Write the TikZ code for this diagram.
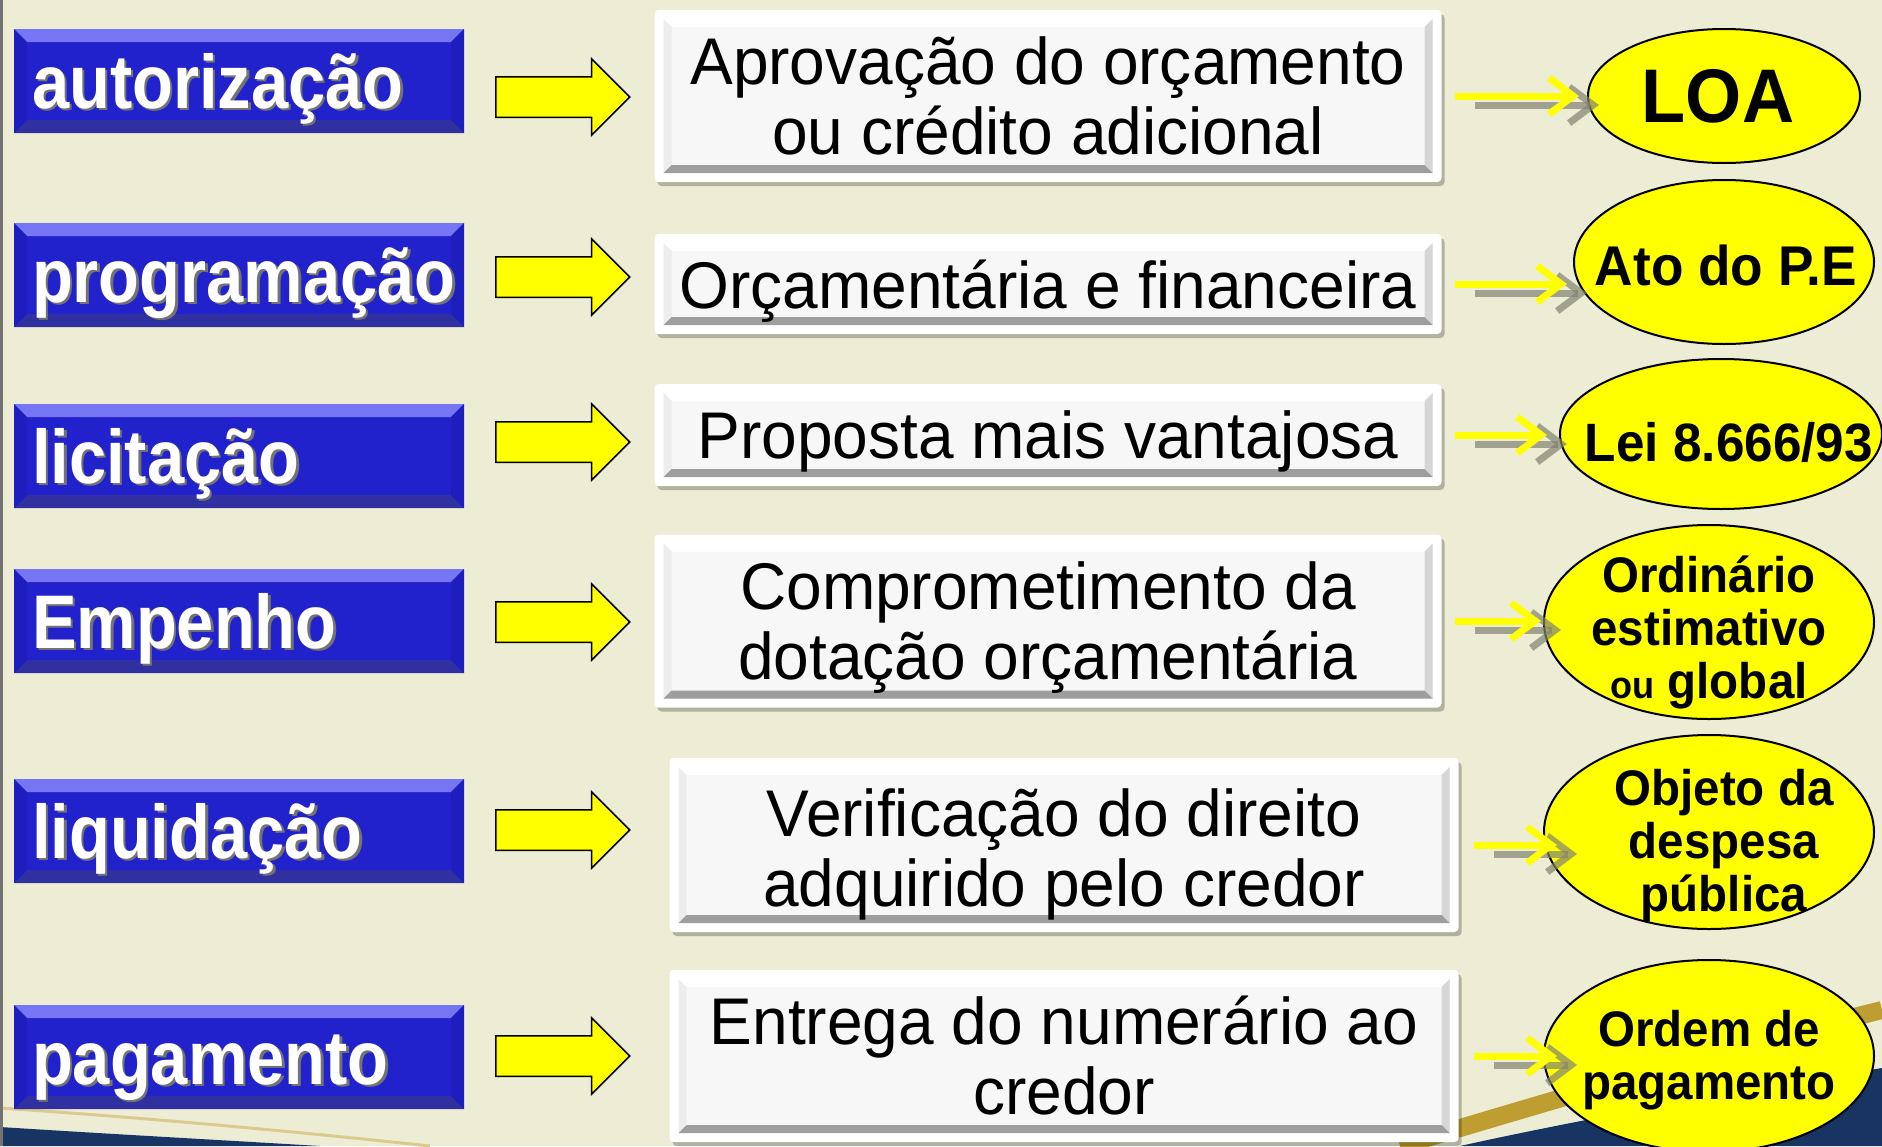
\documentclass[tikz,border=0pt]{standalone}
\usepackage{fontspec}
\setmainfont{Liberation Sans}
\newfontfamily\etapafont[FakeStretch=0.88]{Liberation Sans}
\newfontfamily\descfont[FakeStretch=0.97]{Liberation Sans}
\newfontfamily\basefont[FakeStretch=0.95]{Liberation Sans}
\usetikzlibrary{shapes.geometric,shapes.arrows,arrows.meta,shadows,positioning}

\definecolor{fundo}{RGB}{237,237,213}
\definecolor{azul}{RGB}{34,34,204}
\definecolor{azulclaro}{RGB}{118,118,244}
\definecolor{azulescuro}{RGB}{48,48,160}
\definecolor{azullado}{RGB}{30,30,190}
\definecolor{amarelo}{RGB}{255,255,0}
\definecolor{sombra}{RGB}{130,130,115}
\definecolor{ouro}{RGB}{190,158,48}
\definecolor{marinho}{RGB}{24,52,98}

\newcommand{\txtsombra}[1]{\leavevmode\rlap{\kern2.5pt\raisebox{-2.5pt}{\textcolor{black!55}{#1}}}#1}

\begin{document}
\begin{tikzpicture}[x=1pt,y=-1pt,
    etapa/.style={rectangle, fill=azul, minimum width=450pt, minimum height=104pt,
        inner xsep=18pt, inner ysep=0pt, text width=414pt, align=left,
        text height=58pt, text depth=4pt, text=white,
        font=\etapafont\bfseries\fontsize{76}{80}\selectfont,
        path picture={
            \coordinate (pnw) at (path picture bounding box.north west);
            \coordinate (pne) at (path picture bounding box.north east);
            \coordinate (pse) at (path picture bounding box.south east);
            \coordinate (psw) at (path picture bounding box.south west);
            \fill[azulclaro] (pnw) -- (pne) -- ([shift={(-13pt,-13pt)}]pne) -- ([shift={(13pt,-13pt)}]pnw) -- cycle;
            \fill[azulescuro] (psw) -- (pse) -- ([shift={(-13pt,13pt)}]pse) -- ([shift={(13pt,13pt)}]psw) -- cycle;
            \fill[azullado] (pnw) -- ([shift={(13pt,-13pt)}]pnw) -- ([shift={(13pt,13pt)}]psw) -- (psw) -- cycle;
            \fill[azullado] (pne) -- ([shift={(-13pt,-13pt)}]pne) -- ([shift={(-13pt,13pt)}]pse) -- (pse) -- cycle;
        }},
    caixa/.style={rectangle, rounded corners=4pt, fill=white, inner sep=0pt,
        drop shadow={shadow xshift=3pt, shadow yshift=-4pt, opacity=0.25, fill=black},
        path picture={
            \coordinate (pnw) at (path picture bounding box.north west);
            \coordinate (pne) at (path picture bounding box.north east);
            \coordinate (pse) at (path picture bounding box.south east);
            \coordinate (psw) at (path picture bounding box.south west);
            \fill[black!3, sharp corners] ([shift={(9pt,-9pt)}]pnw) rectangle ([shift={(-9pt,9pt)}]pse);
            \fill[white, sharp corners] ([shift={(9pt,-9pt)}]pnw) -- ([shift={(-9pt,-9pt)}]pne) -- ([shift={(-17pt,-17pt)}]pne) -- ([shift={(17pt,-17pt)}]pnw) -- cycle;
            \fill[black!7, sharp corners] ([shift={(9pt,-9pt)}]pnw) -- ([shift={(17pt,-17pt)}]pnw) -- ([shift={(17pt,17pt)}]psw) -- ([shift={(9pt,9pt)}]psw) -- cycle;
            \fill[black!16, sharp corners] ([shift={(-9pt,-9pt)}]pne) -- ([shift={(-17pt,-17pt)}]pne) -- ([shift={(-17pt,17pt)}]pse) -- ([shift={(-9pt,9pt)}]pse) -- cycle;
            \fill[black!38, sharp corners] ([shift={(9pt,9pt)}]psw) -- ([shift={(-9pt,9pt)}]pse) -- ([shift={(-17pt,17pt)}]pse) -- ([shift={(17pt,17pt)}]psw) -- cycle;
        }},
    texto/.style={align=center, inner sep=0pt, font=\descfont\fontsize{66}{70}\selectfont},
    seta/.style={single arrow, anchor=tail, fill=amarelo, draw=black, line width=1.5pt,
        minimum height=134pt, inner xsep=0pt, inner ysep=19.5pt, single arrow head extend=18pt},
    elipse/.style={ellipse, draw=black, line width=2pt, fill=amarelo, inner sep=0pt},
    base/.style={font=\basefont\bfseries, align=center, inner sep=0pt},
    setinha/.style={draw=amarelo, line width=7pt, -{Straight Barb[length=24pt,width=36pt]}},
    setinhasombra/.style={setinha, draw=sombra, opacity=0.7, transform canvas={shift={(20pt,-9pt)}}}]

\useasboundingbox (0,0) rectangle (1882,1146);
\fill[fundo] (0,0) rectangle (1882,1146);
\fill[marinho] (0,1127) .. controls (110,1134) and (220,1140) .. (320,1146) -- (0,1146) -- cycle;
\draw[ouro!55, line width=3pt] (0,1108) .. controls (150,1118) and (300,1132) .. (430,1146);
\fill[marinho] (1460,1146) .. controls (1600,1115) and (1750,1090) .. (1882,1068) -- (1882,1146) -- cycle;
\draw[ouro, line width=18pt] (1400,1146) .. controls (1570,1095) and (1740,1045) .. (1882,1010);
\draw[black!55, line width=3pt] (1.5,0) -- (1.5,1146);

\node[etapa] (aut) at (239,81) {\txtsombra{autorização}};
\node[etapa] (prog) at (239,275) {\txtsombra{programação}};
\node[etapa] (lic) at (239,456) {\txtsombra{licitação}};
\node[etapa] (emp) at (239,621) {\txtsombra{Empenho}};
\node[etapa] (liq) at (239,831) {\txtsombra{liquidação}};
\node[etapa] (pag) at (239,1057) {\txtsombra{pagamento}};

\node[seta] (s1) at (495,97) {};
\node[seta] (s2) at (495,277) {};
\node[seta] (s3) at (495,442) {};
\node[seta] (s4) at (495,622) {};
\node[seta] (s5) at (495,830) {};
\node[seta] (s6) at (495,1056) {};

\node[caixa, minimum width=787pt, minimum height=172pt] (w1) at (1048,96) {};
\node[caixa, minimum width=787pt, minimum height=100pt] (w2) at (1048,284) {};
\node[caixa, minimum width=787pt, minimum height=102pt] (w3) at (1048,435) {};
\node[caixa, minimum width=787pt, minimum height=173pt] (w4) at (1048,621) {};
\node[caixa, minimum width=789pt, minimum height=174pt] (w5) at (1064,845) {};
\node[caixa, minimum width=789pt, minimum height=172pt] (w6) at (1064,1056) {};

\node[texto] (d1) at (1048,96) {Aprovação do orçamento\\ou crédito adicional};
\node[texto] (d2) at (1048,291) {Orçamentária e financeira};
\node[texto] (d3) at (1048,441) {Proposta mais vantajosa};
\node[texto] (d4) at (1048,628) {Comprometimento da\\dotação orçamentária};
\node[texto] (d5) at (1064,854) {Verificação do direito\\adquirido pelo credor};
\node[texto] (d6) at (1064,1056) {Entrega do numerário ao\\credor};

\node[elipse, minimum width=272pt, minimum height=134pt] (e1) at (1724,96) {};
\node[elipse, minimum width=300pt, minimum height=164pt] (e2) at (1724,262) {};
\node[elipse, minimum width=322pt, minimum height=150pt] (e3) at (1721,434) {};
\node[elipse, minimum width=330pt, minimum height=194pt] (e4) at (1709,622) {};
\node[elipse, minimum width=330pt, minimum height=194pt] (e5) at (1709,832) {};
\node[elipse, minimum width=330pt, minimum height=192pt] (e6) at (1709,1056) {};

\node[base, font=\basefont\bfseries\fontsize{76}{80}\selectfont] (t1) at (1718,96) {LOA};
\node[base, font=\basefont\bfseries\fontsize{56}{60}\selectfont] (t2) at (1726,265) {Ato do P.E};
\node[base, font=\basefont\bfseries\fontsize{54}{58}\selectfont] (t3) at (1729,442) {Lei 8.666/93};
\node[base, font=\basefont\bfseries\fontsize{50}{53}\selectfont] (t4) at (1709,632) {Ordinário\\estimativo\\{\fontsize{38}{53}\selectfont ou} global};
\node[base, font=\basefont\bfseries\fontsize{50}{53}\selectfont] (t5) at (1724,846) {Objeto da\\despesa\\pública};
\node[base, font=\basefont\bfseries\fontsize{50}{53}\selectfont] (t6) at (1709,1060) {Ordem de\\pagamento};

\foreach \i/\a/\b in {1/13/8, 2/13/6, 3/13/12, 4/13/2, 5/15/-14, 6/15/-14} {
    \draw[setinhasombra, shorten <=\a pt, shorten >=\b pt] (w\i.east) -- (w\i.east -| e\i.west);
    \draw[setinha, shorten <=\a pt, shorten >=\b pt] (w\i.east) -- (w\i.east -| e\i.west);
}
\end{tikzpicture}
\end{document}
